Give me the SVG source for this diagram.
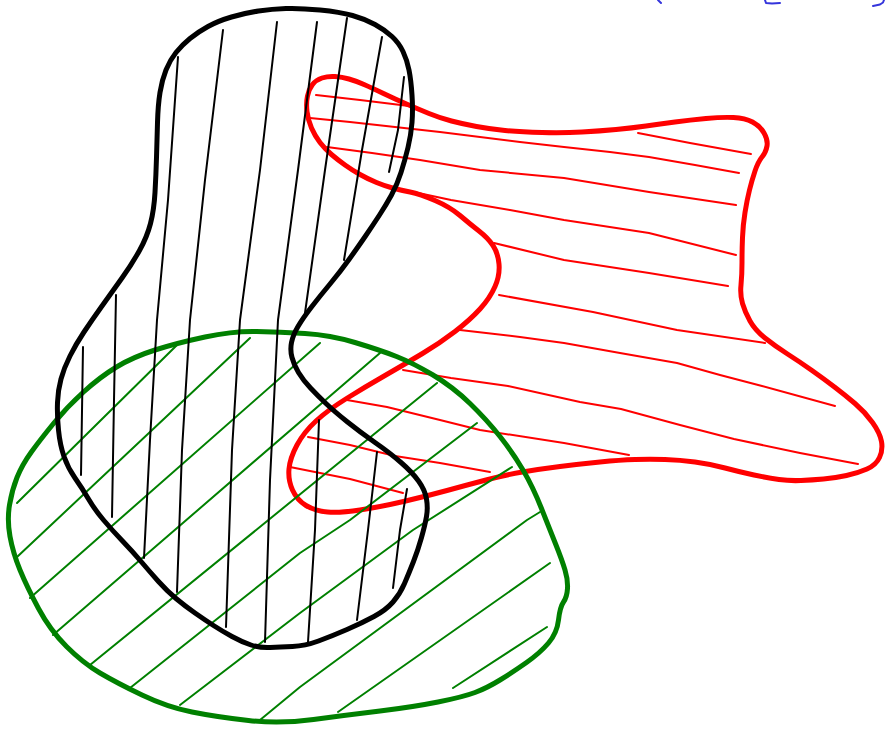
<svg xmlns="http://www.w3.org/2000/svg" width="885" height="732" viewBox="0 0 885 732">
<style>
.o{fill:none;stroke-width:5;stroke-linejoin:round;stroke-linecap:round}
.h{fill:none;stroke-width:2;stroke-linejoin:round;stroke-linecap:round}
.k{stroke:#000}
.r{stroke:#ff0000}
.g{stroke:#008000}
.b{fill:none;stroke:#3535dc;stroke-width:2;stroke-linecap:round;stroke-linejoin:round}
</style>
<rect width="885" height="732" fill="#fff"/>
<g id="blue-marks">
<polyline class="b" points="658,0 661,3"/>
<polyline class="b" points="765,0 766,3 772,3.5 780,3"/>
<polyline class="b" points="873,6 880,4.5 883,2.5 884,0"/>
</g>
<g id="red-region">
<g class="h r">
<polyline points="316,95 360,100 409,106"/>
<polyline points="310,118 350,122 395,127 440,132 480,137 520,142 564,147 610,152 649,157 695,165 739,173"/>
<polyline points="638,133 690,143 751,154"/>
<polyline points="327,147 372,153 420,160 480,170 564,178 649,192 736,205"/>
<polyline points="409,191 451,200 510,210 564,220 649,233 736,255"/>
<polyline points="494,243 564,260 649,273 728,286"/>
<polyline points="499,295 593,312 677,330 765,343"/>
<polyline points="460,330 520,337 564,343 620,353 677,363 720,375 762,386 835,406"/>
<polyline points="403,370 451,378 508,386 580,402 621,409 680,425 734,439 800,453 858,464"/>
<polyline points="347,400 387,407 440,420 480,430 564,443 629,455"/>
<polyline points="308,437 350,445 395,456 440,463 490,472"/>
<polyline points="290,467 350,479 403,493"/>
</g>
<path class="o r" d="M312.5,84.5 Q316,80 322,78 Q328,76 335,76.5 Q342,77 349,79 Q356,81 364,84.5 Q372,88 383.5,93.5 Q395,99 406.5,104 Q418,109 429,113.5 Q440,118 451.5,121 Q463,124 476.5,126.5 Q490,129 505,130.5 Q520,132 542,132.5 Q564,133 582,132 Q600,131 616,129.5 Q632,128 646,126 Q660,124 675,122 Q690,120 706,118.5 Q722,117 733.5,117.5 Q745,118 752.5,122 Q760,126 764,133 Q768,140 767,146 Q766,152 762,157 Q758,162 755,171 Q752,180 749.5,190 Q747,200 745,212.5 Q743,225 742.5,237.5 Q742,250 742,262.5 Q742,275 741,285 Q740,295 742.5,303.5 Q745,312 750,321 Q755,330 765,338 Q775,346 787.5,354 Q800,362 812,370.5 Q824,379 834.5,387 Q845,395 855,403.5 Q865,412 872.5,422.5 Q880,433 881.5,441.5 Q883,450 879.5,457.5 Q876,465 867,469 Q858,473 846.5,475.5 Q835,478 823.5,479 Q812,480 801,480.5 Q790,481 779,479.5 Q768,478 754,475 Q740,472 725,468 Q710,464 695,462 Q680,460 665,459.5 Q650,459 635,459.5 Q620,460 600,462 Q580,464 560,466.5 Q540,469 522.5,472 Q505,475 486,480 Q467,485 447,490.5 Q427,496 403.5,501.5 Q380,507 360,510 Q340,513 327.5,512 Q315,511 306,505.5 Q297,500 292.5,490 Q288,480 289,469 Q290,458 297,445 Q304,432 316,421 Q328,410 346.5,398.5 Q365,387 385,375.5 Q405,364 422.5,353.5 Q440,343 455,331.5 Q470,320 480,309 Q490,298 495,286.5 Q500,275 499,264 Q498,253 493,245.5 Q488,238 479,231 Q470,224 460,215.5 Q450,207 435,200.5 Q420,194 410,192 Q400,190 392.5,188 Q385,186 376.5,182.5 Q368,179 360,174.5 Q352,170 345,165 Q338,160 331.5,154.5 Q325,149 320,142.5 Q315,136 311.5,128 Q308,120 307,111.5 Q306,103 307.5,96 Q309,89 312.5,84.5 Z"/>
</g>
<g id="green-region">
<g class="h g">
<polyline points="17,503 177,345"/>
<polyline points="17,557 250,338"/>
<polyline points="30,598 320,343"/>
<polyline points="53,635 380,353"/>
<polyline points="90,665 437,383"/>
<polyline points="130,688 300,553 350,520 477,423"/>
<polyline points="180,705 300,613 413,530 512,467"/>
<polyline points="260,720 300,687 527,520 540,512"/>
<polyline points="338,712 550,563"/>
<polyline points="453,688 547,627"/>
</g>
<path class="o g" d="M256.5,331.5 Q280,332 305,333.5 Q330,335 355,342.5 Q380,350 396.5,356.5 Q413,363 433,375 Q453,387 470,403.5 Q487,420 500,436.5 Q513,453 523,470 Q533,487 541.5,508.5 Q550,530 556,545 Q562,560 565,570 Q568,580 567.5,588.5 Q567,597 563.5,602 Q560,607 558.5,620 Q557,633 548.5,643 Q540,653 526.5,662.5 Q513,672 500,680 Q487,688 475,692.5 Q463,697 438,702 Q413,707 380,711 Q347,715 313.5,719.5 Q280,724 248.5,720.5 Q217,717 192,712 Q167,707 142,695 Q117,683 100,673 Q83,663 66.5,646.5 Q50,630 38.5,608.5 Q27,587 20,570 Q13,553 10,536.5 Q7,520 9.5,505 Q12,490 17,477.5 Q22,465 31,452.5 Q40,440 53.5,423.5 Q67,407 83.5,392 Q100,377 116.5,367 Q133,357 155,350 Q177,343 205,337 Q233,331 256.5,331.5 Z"/>
</g>
<g id="black-region">
<g class="h k">
<polyline points="83,347 81,475"/>
<polyline points="116,295 114,400 112,517"/>
<polyline points="178,57 168,200 157,320 150,440 144,558"/>
<polyline points="223,30 205,180 190,320 182,450 177,592"/>
<polyline points="277,22 260,170 240,320 232,450 226,627"/>
<polyline points="317,22 298,170 278,320 270,480 265,642"/>
<polyline points="347,18 325,170 305,313"/>
<polyline points="382,37 362,150 344,260"/>
<polyline points="404,77 398,130 389,172"/>
<polyline points="319,420 315,530 308,642"/>
<polyline points="377,452 368,530 357,620"/>
<polyline points="407,489 400,530 393,588"/>
</g>
<path class="o k" d="M286,8.5 Q300,8 320,10 Q340,12 352.5,15.5 Q365,19 375,24.5 Q385,30 392,36.5 Q399,43 403,51.5 Q407,60 409,70 Q411,80 412,95 Q413,110 412,122.5 Q411,135 408,147.5 Q405,160 401,172.5 Q397,185 391.5,195 Q386,205 379.5,215 Q373,225 365.5,236 Q358,247 349,259.5 Q340,272 330,284 Q320,296 311.5,307 Q303,318 298,326.5 Q293,335 291.5,342.5 Q290,350 292,357.5 Q294,365 298.5,372.5 Q303,380 310.5,388 Q318,396 326.5,404 Q335,412 347.5,422 Q360,432 375,442.5 Q390,453 401,462.5 Q412,472 418.5,481 Q425,490 426.5,499 Q428,508 426.5,516.5 Q425,525 421.5,537.5 Q418,550 413.5,561.5 Q409,573 404.5,583.5 Q400,594 393,602 Q386,610 374,616.5 Q362,623 347,629.5 Q332,636 318.5,641 Q305,646 292.5,646.5 Q280,647 270,647.5 Q260,648 251,645 Q242,642 232,636.5 Q222,631 213.5,625.5 Q205,620 195,613 Q185,606 176,598.5 Q167,591 158.5,581.5 Q150,572 141.5,562 Q133,552 122.5,541 Q112,530 103.5,520 Q95,510 88.5,499 Q82,488 75,478 Q68,468 64,456.5 Q60,445 58.5,430 Q57,415 57.5,402.5 Q58,390 61,379 Q64,368 70,356 Q76,344 84,332 Q92,320 102,306 Q112,292 122,278 Q132,264 139.5,250.5 Q147,237 150.5,223.5 Q154,210 155,192.5 Q156,175 156.5,157.5 Q157,140 157.5,122.5 Q158,105 160,92.5 Q162,80 166,70 Q170,60 176,52.5 Q182,45 190,38.5 Q198,32 208,26.5 Q218,21 231.5,17 Q245,13 258.5,11 Q272,9 286,8.5 Z"/>
</g>
</svg>
